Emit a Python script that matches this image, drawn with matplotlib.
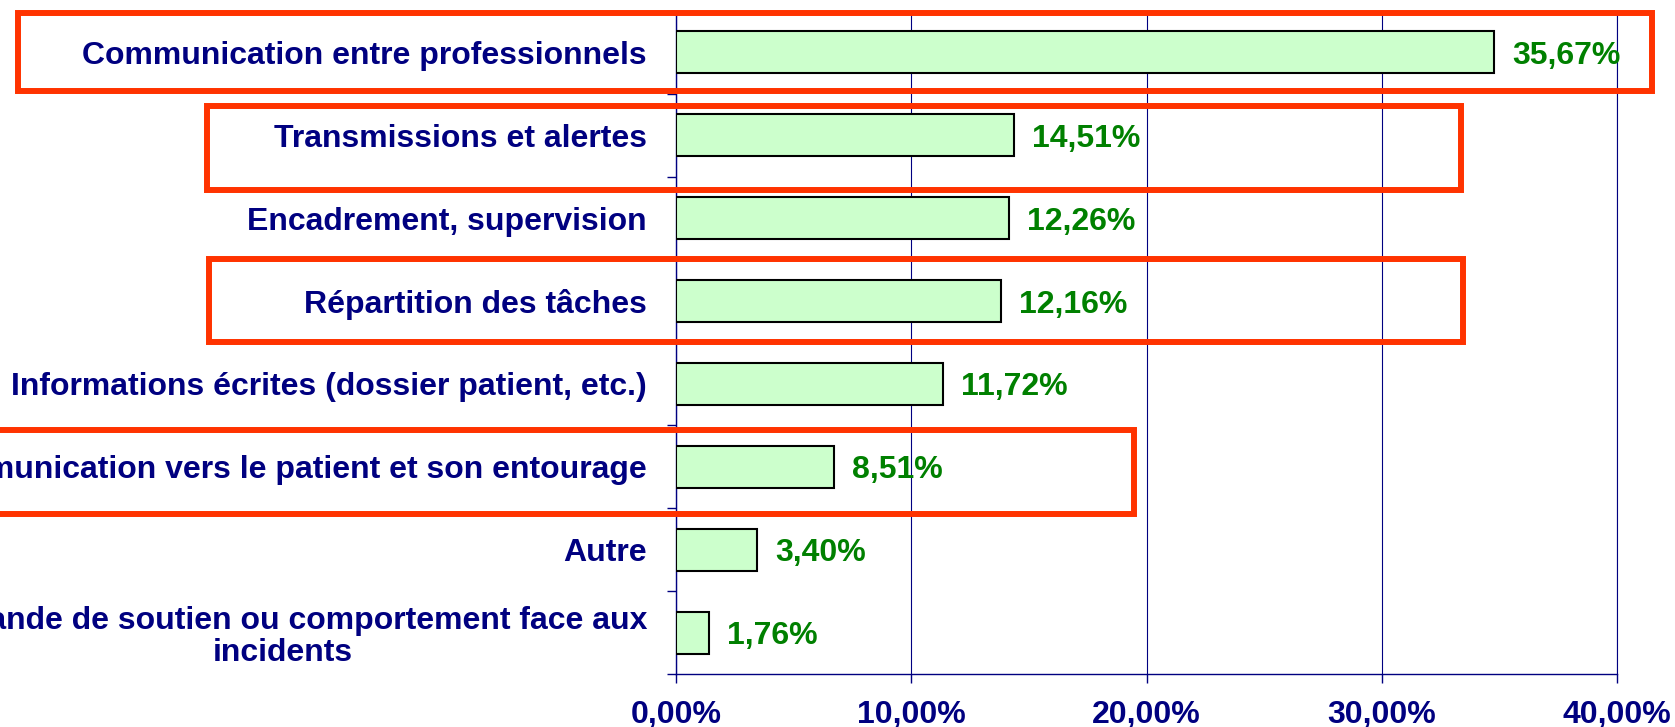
"""
Horizontal bar chart: share of root causes (communication / organisation),
with red frames around the highlighted rows.
"""
import numpy as np
import matplotlib.pyplot as plt
from matplotlib.patches import Rectangle

plt.rcParams['font.family'] = ['Liberation Sans', 'DejaVu Sans']
plt.rcParams['font.weight'] = 'bold'

categories = [
    "Communication entre professionnels",
    "Transmissions et alertes",
    "Encadrement, supervision",
    "Répartition des tâches",
    "Informations écrites (dossier patient, etc.)",
    "Communication vers le patient et son entourage",
    "Autre",
    "Demande de soutien ou comportement face aux\nincidents",
]
# bar lengths as drawn in the picture (%)
bar_values = [34.76, 14.38, 14.14, 13.83, 11.33, 6.71, 3.44, 1.39]
# value labels as printed next to the bars
value_labels = ["35,67%", "14,51%", "12,26%", "12,16%", "11,72%", "8,51%", "3,40%", "1,76%"]
x_ticks = [0, 10, 20, 30, 40]
x_tick_labels = ["0,00%", "10,00%", "20,00%", "30,00%", "40,00%"]

# red highlight frames: (row, x left, x right, top offset, bottom offset) in data units
highlight_boxes = [
    (0, -27.96, 41.48, -0.476, 0.464),
    (1, -19.93, 33.36, -0.355, 0.657),
    (3, -19.85, 33.45, -0.506, 0.494),
    (5, -29.50, 19.46, -0.446, 0.566),
]

NAVY = '#000080'
GREEN = '#008000'
RED = '#FF3300'

fig = plt.figure(figsize=(16.75, 7.27), dpi=100)
ax = fig.add_axes([0.4036, 0.0729, 0.5618, 0.912])

y = np.arange(len(categories))
bars = ax.barh(y, bar_values, height=0.506, color='#CCFFCC',
               edgecolor='black', linewidth=1.5, zorder=3)
texts = ax.bar_label(bars, labels=value_labels, padding=13, color=GREEN,
                     fontsize=23, fontweight='bold')
for t in texts:
    t.set_va('center_baseline')

ax.set_xlim(0, 40)
ax.set_ylim(len(categories) - 0.5, -0.5)

ax.set_xticks(x_ticks)
ax.set_xticklabels(x_tick_labels)
ax.set_yticks(y)
ax.set_yticklabels(categories)
ax.set_yticks(np.arange(len(categories) + 1) - 0.5, minor=True)
last = ax.get_yticklabels()[-1]
last.set_multialignment('center')
last.set_linespacing(1.08)

ax.tick_params(axis='y', which='major', length=0, pad=20.9,
               labelsize=23, labelcolor=NAVY)
ax.tick_params(axis='y', which='minor', length=6.5, width=1, color=NAVY,
               direction='out')
ax.tick_params(axis='x', length=6.5, width=1, color=NAVY, direction='out',
               labelsize=23, labelcolor=NAVY, pad=12)

ax.grid(axis='x', color=NAVY, linewidth=0.8, zorder=0)
ax.set_axisbelow(True)
ax.spines['top'].set_visible(False)
ax.spines['right'].set_color(NAVY)
ax.spines['right'].set_linewidth(0.8)
for side in ['left', 'bottom']:
    ax.spines[side].set_color(NAVY)
    ax.spines[side].set_linewidth(1)

for row, x0, x1, dy0, dy1 in highlight_boxes:
    rect = Rectangle((x0, row + dy0), x1 - x0, dy1 - dy0, fill=False,
                     edgecolor=RED, linewidth=4.3, clip_on=False, zorder=5)
    ax.add_patch(rect)

fig.savefig('out.png', dpi=100)
